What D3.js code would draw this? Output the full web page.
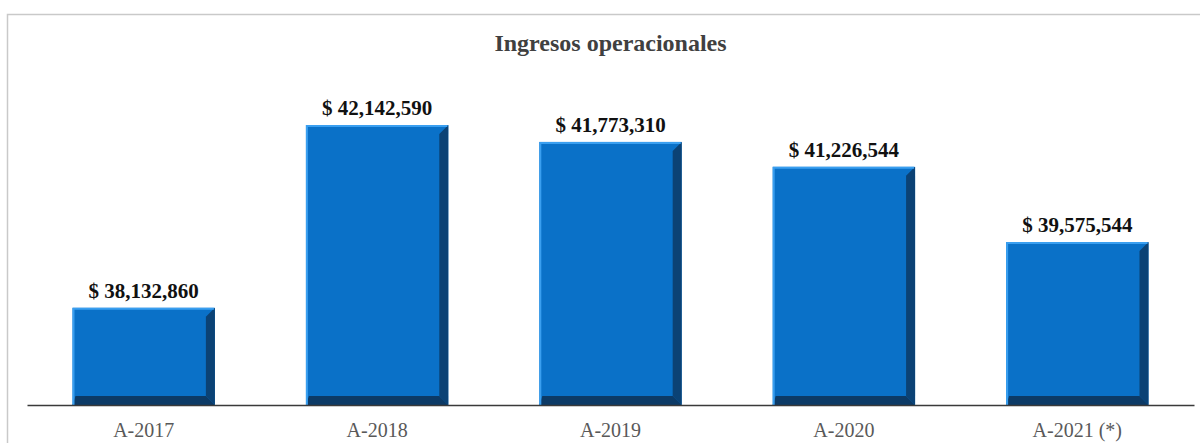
<!DOCTYPE html>
<html>
<head>
<meta charset="utf-8">
<script src="https://cdn.jsdelivr.net/npm/d3@7"></script>
<style>
  body { margin: 0; background: #fff; }
  svg { display: block; }
</style>
</head>
<body>
<script>
var categories = ["A-2017", "A-2018", "A-2019", "A-2020", "A-2021 (*)"];
var values = [38132860, 42142590, 41773310, 41226544, 39575544];
var title = "Ingresos operacionales";

var width = 1200, height = 443;
var margin = {top: 86, right: 6, bottom: 38, left: 27};

var svg = d3.select("body").append("svg")
    .attr("width", width)
    .attr("height", height);

// outer chart frame (runs past the right/bottom edge of the picture)
svg.append("rect")
    .attr("x", 7.5).attr("y", 14.5)
    .attr("width", 1210).attr("height", 450)
    .attr("fill", "none")
    .attr("stroke", "#c9c9c9")
    .attr("stroke-width", 1.5);

var x = d3.scaleBand()
    .domain(categories)
    .range([margin.left, width - margin.right])
    .paddingInner(0.39)
    .paddingOuter(0.195);

var y = d3.scaleLinear()
    .domain([36000000, 43000000])
    .range([height - margin.bottom, margin.top]);

svg.append("text")
    .attr("x", (margin.left + width - margin.right) / 2)
    .attr("y", 51)
    .attr("text-anchor", "middle")
    .style("font-family", "'Liberation Serif', 'Times New Roman', serif")
    .style("font-weight", "bold")
    .style("font-size", "24px")
    .attr("fill", "#404040")
    .text(title);

var data = categories.map(function(c, i) { return {cat: c, val: values[i]}; });

var base = y.domain()[0];
var edge = 9; // bevel depth

var bars = svg.append("g").selectAll("g")
    .data(data)
  .enter().append("g");

// main face
bars.append("rect")
    .attr("x", function(d) { return x(d.cat); })
    .attr("y", function(d) { return y(d.val); })
    .attr("width", x.bandwidth())
    .attr("height", function(d) { return y(base) - y(d.val); })
    .attr("fill", "#0a71c8");

// dark right bevel
bars.append("path")
    .attr("fill", "#0b4275")
    .attr("d", function(d) {
      var x0 = x(d.cat), x1 = x0 + x.bandwidth(), y0 = y(d.val), y1 = y(base);
      return "M" + x1 + "," + y0 + "L" + x1 + "," + y1 +
             "L" + (x1 - edge) + "," + (y1 - edge) + "L" + (x1 - edge) + "," + (y0 + edge) + "Z";
    });

// dark bottom bevel
bars.append("path")
    .attr("fill", "#0c3a66")
    .attr("d", function(d) {
      var x0 = x(d.cat), x1 = x0 + x.bandwidth(), y1 = y(base);
      return "M" + x0 + "," + y1 + "L" + x1 + "," + y1 +
             "L" + (x1 - edge) + "," + (y1 - edge) + "L" + (x0 + 3) + "," + (y1 - edge) + "Z";
    });

// light left + top edge
bars.append("path")
    .attr("fill", "none")
    .attr("stroke", "#3a9ff0")
    .attr("stroke-width", 2)
    .attr("d", function(d) {
      var x0 = x(d.cat) + 1, x1 = x(d.cat) + x.bandwidth() - 1, y0 = y(d.val) + 1, y1 = y(base);
      return "M" + x0 + "," + y1 + "L" + x0 + "," + y0 + "L" + x1 + "," + y0;
    });

// value labels
bars.append("text")
    .attr("x", function(d) { return x(d.cat) + x.bandwidth() / 2; })
    .attr("y", function(d) { return y(d.val) - 10; })
    .attr("text-anchor", "middle")
    .style("font-family", "'Liberation Serif', 'Times New Roman', serif")
    .style("font-weight", "bold")
    .style("font-size", "21px")
    .attr("fill", "#111")
    .text(function(d) { return "$ " + d3.format(",")(d.val); });

// category axis
var xAxis = svg.append("g")
    .attr("transform", "translate(0," + y(base) + ")")
    .call(d3.axisBottom(x).tickSize(0).tickPadding(0));

xAxis.select(".domain")
    .attr("stroke", "#3a3a3a")
    .attr("stroke-width", 1.5);

xAxis.selectAll("text")
    .attr("dy", null)
    .attr("y", 32)
    .style("font-family", "'Liberation Serif', 'Times New Roman', serif")
    .style("font-size", "20px")
    .attr("fill", "#595959");
</script>
</body>
</html>
